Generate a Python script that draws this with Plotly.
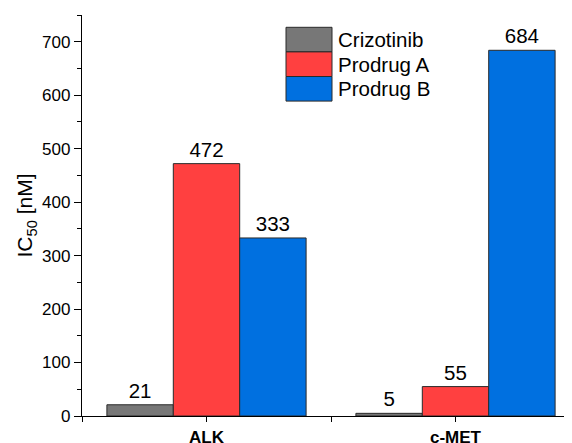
import plotly.graph_objects as go

categories = ["ALK", "c-MET"]
series_names = ["Crizotinib", "Prodrug A", "Prodrug B"]
crizotinib = [21, 5]
prodrug_a = [472, 55]
prodrug_b = [333, 684]
series_values = [crizotinib, prodrug_a, prodrug_b]
colors = ["#777777", "#FF4040", "#0070E0"]
y_tick_vals = [0, 100, 200, 300, 400, 500, 600, 700]

FONT = "Arial, Liberation Sans, sans-serif"
x_pos = list(range(len(categories)))

fig = go.Figure()
for name, vals, col in zip(series_names, series_values, colors):
    fig.add_trace(go.Bar(
        x=x_pos, y=vals, name=name,
        marker=dict(color=col, line=dict(color="#2a2a2a", width=1)),
        text=[str(v) for v in vals], textposition="outside",
        textfont=dict(size=20.5, color="black", family=FONT),
        cliponaxis=False, showlegend=False,
    ))

# plot area: left 74, right 572, top 7, bottom 408 (figure px); width 498, height 401
box_top = 1 - (27.3 - 15) / 401
box_h = 24.6 / 401
bx0 = (286 - 82) / 498
bx1 = (332 - 82) / 498
tx = (338 - 82) / 498
for i, (name, col) in enumerate(zip(series_names, colors)):
    y1 = box_top - i * box_h
    y0 = y1 - box_h
    fig.add_shape(type="rect", xref="paper", yref="paper",
                  x0=bx0, x1=bx1, y0=y0, y1=y1,
                  fillcolor=col, line=dict(color="#2a2a2a", width=1))
    fig.add_annotation(xref="paper", yref="paper", x=tx, y=(y0 + y1) / 2,
                       text=name, showarrow=False, xanchor="left", yanchor="middle",
                       xshift=-2, font=dict(size=20.5, color="black", family=FONT))

fig.update_layout(
    width=572, height=443,
    margin=dict(l=74, r=0, t=7, b=35),
    plot_bgcolor="white", paper_bgcolor="white",
    barmode="group", bargap=0.2, bargroupgap=0,
    font=dict(family=FONT, color="black"),
    xaxis=dict(range=[-0.5, 1.5], tickvals=x_pos,
               ticktext=["<b>" + c + "</b>" for c in categories],
               showline=True, linecolor="black", linewidth=1.3,
               ticks="outside", ticklen=5, tickcolor="black",
               minor=dict(tickvals=[-0.5, 0.5, 1.5], ticks="outside", ticklen=5,
                          tickcolor="black", showgrid=False),
               tickfont=dict(size=17, family=FONT), showgrid=False, zeroline=False,
               automargin=False),
    yaxis=dict(range=[0, 750], tickvals=y_tick_vals,
               showline=True, linecolor="black", linewidth=1.3,
               ticks="outside", ticklen=7, tickcolor="black",
               minor=dict(dtick=50, ticks="outside", ticklen=4, tickcolor="black", showgrid=False),
               tickfont=dict(size=17, family=FONT), showgrid=False, zeroline=False,
               automargin=False,
               title=dict(text="IC<sub>50</sub> [nM]", font=dict(size=21, family=FONT), standoff=3)),
)

fig.write_html("out.html")
